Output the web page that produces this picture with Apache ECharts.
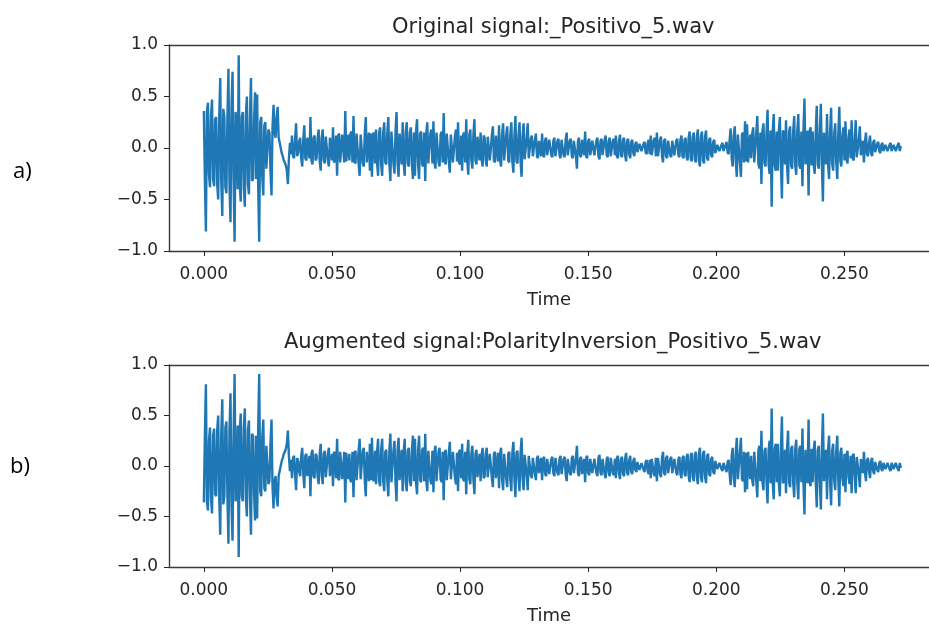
<!DOCTYPE html>
<html><head><meta charset="utf-8">
<script src="https://cdn.jsdelivr.net/npm/echarts@6/dist/echarts.min.js"></script>
<style>html,body{margin:0;padding:0;background:#fff}#c{width:929px;height:626px}</style>
</head><body><div id="c"></div>
<script>
// seconds between the plotted samples
const timeStep = 0.0004;

const originalValues = [
0.36,-0.30,-0.81,0.35,0.44,-0.25,-0.38,0.32,0.47,-0.30,-0.37,0.28,0.30,-0.35,-0.50,0.30,0.68,-0.32,-0.66,0.38,
0.30,-0.38,-0.44,0.30,0.77,-0.35,-0.72,0.40,0.74,-0.30,-0.91,0.35,0.20,-0.40,0.90,-0.35,-0.52,0.30,0.35,-0.38,
-0.57,0.32,0.50,-0.35,-0.45,0.30,0.68,-0.32,-0.30,0.28,0.54,-0.30,0.52,-0.36,-0.91,0.25,0.30,-0.28,-0.46,0.22,
0.25,-0.20,-0.20,0.18,0.15,-0.22,-0.46,0.20,0.42,0.15,0.10,0.30,0.40,0.10,0.05,0.00,-0.05,-0.08,-0.12,-0.14,
-0.17,-0.22,-0.35,-0.10,0.05,-0.06,0.12,-0.08,-0.10,0.08,0.24,-0.08,-0.05,0.06,0.10,-0.10,-0.18,0.08,0.22,-0.10,
-0.12,0.10,0.10,-0.10,0.30,-0.12,-0.16,0.10,0.12,-0.12,-0.10,0.10,0.18,-0.12,-0.22,0.10,0.18,-0.12,-0.15,0.11,
0.12,-0.12,-0.18,0.10,0.10,-0.12,0.20,-0.14,-0.12,0.12,-0.27,0.12,0.14,-0.14,-0.15,0.13,0.12,-0.14,0.36,-0.13,
-0.14,0.13,-0.12,0.14,0.16,-0.14,0.31,-0.13,-0.15,0.14,0.14,-0.15,-0.27,0.13,0.12,-0.15,-0.18,0.14,0.30,-0.14,
-0.14,0.15,-0.22,0.14,-0.28,0.13,0.15,-0.15,0.18,-0.14,-0.27,0.15,0.20,-0.16,-0.27,0.15,0.25,-0.14,-0.16,0.15,
0.30,-0.15,-0.32,0.16,0.15,-0.15,-0.25,0.16,0.35,-0.15,-0.28,0.14,0.14,-0.16,0.25,-0.15,-0.27,0.16,0.25,-0.15,
-0.18,0.15,0.20,-0.16,-0.30,0.15,-0.27,0.16,0.28,-0.15,-0.30,0.14,0.16,-0.16,-0.18,0.15,-0.32,0.14,0.25,-0.15,
-0.15,0.14,0.18,-0.15,0.26,-0.14,-0.20,0.15,0.14,-0.14,-0.18,0.13,0.16,-0.14,0.34,-0.13,-0.16,0.14,0.15,-0.13,
-0.24,0.13,0.14,-0.14,-0.15,0.12,0.18,-0.13,0.25,-0.14,-0.16,0.12,-0.22,0.13,0.15,-0.14,0.28,-0.12,-0.26,0.13,
0.18,-0.12,-0.20,0.13,0.28,-0.12,-0.16,0.11,0.12,-0.12,0.15,-0.11,-0.18,0.12,0.10,-0.12,-0.18,0.11,0.12,-0.12,
-0.12,0.12,0.21,-0.12,-0.14,0.12,0.12,-0.13,0.22,-0.12,-0.18,0.13,0.24,-0.12,-0.12,0.13,0.21,-0.12,-0.14,0.13,
0.25,-0.13,-0.24,0.12,0.31,-0.13,-0.15,0.12,0.25,-0.13,-0.28,0.12,0.24,-0.11,-0.12,0.10,0.24,-0.10,-0.11,0.09,
0.12,-0.08,-0.08,0.08,0.14,-0.08,-0.10,0.07,0.08,-0.08,0.14,-0.07,-0.09,0.08,0.10,-0.07,-0.08,0.08,0.09,-0.07,
-0.09,0.07,0.10,-0.08,-0.08,0.07,0.09,-0.07,-0.10,0.08,0.08,-0.07,-0.09,0.08,0.15,-0.07,-0.08,0.07,0.09,-0.08,
-0.10,0.07,0.08,-0.08,-0.20,0.07,0.10,-0.07,-0.09,0.08,0.08,-0.07,0.16,-0.08,-0.10,0.07,0.09,-0.07,-0.08,0.07,
0.08,-0.07,-0.08,0.07,0.10,-0.08,-0.11,0.07,0.09,-0.07,-0.08,0.08,0.12,-0.07,-0.09,0.07,0.10,-0.08,-0.08,0.07,
0.09,-0.07,0.12,-0.08,-0.10,0.07,0.13,-0.07,-0.09,0.08,0.10,-0.07,-0.13,0.07,0.09,-0.06,-0.10,0.06,0.08,-0.05,
-0.08,0.04,0.06,-0.04,-0.05,0.04,0.05,-0.03,-0.04,0.04,0.06,-0.04,-0.06,0.05,0.08,-0.06,0.12,-0.07,-0.08,0.08,
0.10,-0.08,0.15,-0.08,-0.09,0.08,0.11,-0.08,-0.14,0.07,0.09,-0.08,-0.10,0.07,0.08,-0.07,-0.09,0.07,0.08,-0.07,
-0.08,0.07,0.09,-0.07,-0.09,0.08,0.12,-0.08,-0.10,0.08,0.10,-0.09,-0.12,0.10,0.16,-0.10,-0.13,0.11,0.15,-0.11,
-0.14,0.11,0.18,-0.12,-0.18,0.11,0.16,-0.12,-0.15,0.11,0.17,-0.10,-0.12,0.08,0.10,-0.07,-0.09,0.06,0.08,-0.05,
-0.05,0.03,0.04,-0.03,-0.04,0.03,0.05,-0.03,-0.03,0.03,0.06,-0.04,-0.06,0.08,0.19,-0.10,-0.18,0.12,0.21,-0.13,
-0.28,0.13,0.12,-0.14,-0.28,0.13,0.15,-0.14,0.26,-0.13,0.23,-0.14,-0.15,0.13,-0.10,0.14,0.20,-0.14,-0.14,0.15,
0.31,-0.15,-0.20,0.15,-0.35,0.16,0.24,-0.15,-0.18,0.16,0.37,-0.16,-0.25,0.17,-0.57,0.16,0.33,-0.17,-0.22,0.16,
-0.22,0.17,0.30,-0.16,-0.49,0.17,0.15,-0.16,0.27,-0.17,-0.35,0.16,0.21,-0.17,-0.20,0.16,0.31,-0.17,-0.26,0.16,
0.33,-0.17,-0.20,0.16,-0.37,0.17,0.48,-0.16,-0.15,0.17,-0.46,0.16,0.20,-0.17,0.16,-0.16,-0.25,0.16,0.41,-0.16,
-0.20,0.16,0.43,-0.16,-0.52,0.15,0.15,-0.16,0.33,-0.15,-0.30,0.15,0.39,-0.15,-0.22,0.14,0.24,-0.14,-0.30,0.13,
0.40,-0.13,-0.18,0.12,0.20,-0.12,0.26,-0.11,-0.15,0.11,0.18,-0.10,0.27,-0.10,-0.12,0.09,0.27,-0.09,-0.10,0.08,
0.21,-0.07,-0.08,0.07,-0.14,0.06,0.15,-0.06,-0.08,0.05,0.12,-0.05,-0.08,0.05,0.08,-0.04,-0.05,0.04,0.06,-0.03,
-0.05,0.03,0.05,-0.03,-0.03,0.03,0.04,-0.03,-0.04,0.03,0.05,-0.03,-0.03,0.03,0.04,-0.03,-0.04,0.03,0.05,-0.03,0.02
];

const augmentedValues = [
-0.36,0.30,0.81,-0.35,-0.44,0.25,0.38,-0.32,-0.47,0.30,0.37,-0.28,-0.30,0.35,0.50,-0.30,-0.68,0.32,0.66,-0.38,
-0.30,0.38,0.44,-0.30,-0.77,0.35,0.72,-0.40,-0.74,0.30,0.91,-0.35,-0.20,0.40,-0.90,0.35,0.52,-0.30,-0.35,0.38,
0.57,-0.32,-0.50,0.35,0.45,-0.30,-0.68,0.32,0.30,-0.28,-0.54,0.30,-0.52,0.36,0.91,-0.25,-0.30,0.28,0.46,-0.22,
-0.25,0.20,0.20,-0.18,-0.15,0.22,0.46,-0.20,-0.42,-0.15,-0.10,-0.30,-0.40,-0.10,-0.05,0.00,0.05,0.08,0.12,0.14,
0.17,0.22,0.35,0.10,-0.05,0.06,-0.12,0.08,0.10,-0.08,-0.24,0.08,0.05,-0.06,-0.10,0.10,0.18,-0.08,-0.22,0.10,
0.12,-0.10,-0.10,0.10,-0.30,0.12,0.16,-0.10,-0.12,0.12,0.10,-0.10,-0.18,0.12,0.22,-0.10,-0.18,0.12,0.15,-0.11,
-0.12,0.12,0.18,-0.10,-0.10,0.12,-0.20,0.14,0.12,-0.12,0.27,-0.12,-0.14,0.14,0.15,-0.13,-0.12,0.14,-0.36,0.13,
0.14,-0.13,0.12,-0.14,-0.16,0.14,-0.31,0.13,0.15,-0.14,-0.14,0.15,0.27,-0.13,-0.12,0.15,0.18,-0.14,-0.30,0.14,
0.14,-0.15,0.22,-0.14,0.28,-0.13,-0.15,0.15,-0.18,0.14,0.27,-0.15,-0.20,0.16,0.27,-0.15,-0.25,0.14,0.16,-0.15,
-0.30,0.15,0.32,-0.16,-0.15,0.15,0.25,-0.16,-0.35,0.15,0.28,-0.14,-0.14,0.16,-0.25,0.15,0.27,-0.16,-0.25,0.15,
0.18,-0.15,-0.20,0.16,0.30,-0.15,0.27,-0.16,-0.28,0.15,0.30,-0.14,-0.16,0.16,0.18,-0.15,0.32,-0.14,-0.25,0.15,
0.15,-0.14,-0.18,0.15,-0.26,0.14,0.20,-0.15,-0.14,0.14,0.18,-0.13,-0.16,0.14,-0.34,0.13,0.16,-0.14,-0.15,0.13,
0.24,-0.13,-0.14,0.14,0.15,-0.12,-0.18,0.13,-0.25,0.14,0.16,-0.12,0.22,-0.13,-0.15,0.14,-0.28,0.12,0.26,-0.13,
-0.18,0.12,0.20,-0.13,-0.28,0.12,0.16,-0.11,-0.12,0.12,-0.15,0.11,0.18,-0.12,-0.10,0.12,0.18,-0.11,-0.12,0.12,
0.12,-0.12,-0.21,0.12,0.14,-0.12,-0.12,0.13,-0.22,0.12,0.18,-0.13,-0.24,0.12,0.12,-0.13,-0.21,0.12,0.14,-0.13,
-0.25,0.13,0.24,-0.12,-0.31,0.13,0.15,-0.12,-0.25,0.13,0.28,-0.12,-0.24,0.11,0.12,-0.10,-0.24,0.10,0.11,-0.09,
-0.12,0.08,0.08,-0.08,-0.14,0.08,0.10,-0.07,-0.08,0.08,-0.14,0.07,0.09,-0.08,-0.10,0.07,0.08,-0.08,-0.09,0.07,
0.09,-0.07,-0.10,0.08,0.08,-0.07,-0.09,0.07,0.10,-0.08,-0.08,0.07,0.09,-0.08,-0.15,0.07,0.08,-0.07,-0.09,0.08,
0.10,-0.07,-0.08,0.08,0.20,-0.07,-0.10,0.07,0.09,-0.08,-0.08,0.07,-0.16,0.08,0.10,-0.07,-0.09,0.07,0.08,-0.07,
-0.08,0.07,0.08,-0.07,-0.10,0.08,0.11,-0.07,-0.09,0.07,0.08,-0.08,-0.12,0.07,0.09,-0.07,-0.10,0.08,0.08,-0.07,
-0.09,0.07,-0.12,0.08,0.10,-0.07,-0.13,0.07,0.09,-0.08,-0.10,0.07,0.13,-0.07,-0.09,0.06,0.10,-0.06,-0.08,0.05,
0.08,-0.04,-0.06,0.04,0.05,-0.04,-0.05,0.03,0.04,-0.04,-0.06,0.04,0.06,-0.05,-0.08,0.06,-0.12,0.07,0.08,-0.08,
-0.10,0.08,-0.15,0.08,0.09,-0.08,-0.11,0.08,0.14,-0.07,-0.09,0.08,0.10,-0.07,-0.08,0.07,0.09,-0.07,-0.08,0.07,
0.08,-0.07,-0.09,0.07,0.09,-0.08,-0.12,0.08,0.10,-0.08,-0.10,0.09,0.12,-0.10,-0.16,0.10,0.13,-0.11,-0.15,0.11,
0.14,-0.11,-0.18,0.12,0.18,-0.11,-0.16,0.12,0.15,-0.11,-0.17,0.10,0.12,-0.08,-0.10,0.07,0.09,-0.06,-0.08,0.05,
0.05,-0.03,-0.04,0.03,0.04,-0.03,-0.05,0.03,0.03,-0.03,-0.06,0.04,0.06,-0.08,-0.19,0.10,0.18,-0.12,-0.21,0.13,
0.28,-0.13,-0.12,0.14,0.28,-0.13,-0.15,0.14,-0.26,0.13,-0.23,0.14,0.15,-0.13,0.10,-0.14,-0.20,0.14,0.14,-0.15,
-0.31,0.15,0.20,-0.15,0.35,-0.16,-0.24,0.15,0.18,-0.16,-0.37,0.16,0.25,-0.17,0.57,-0.16,-0.33,0.17,0.22,-0.16,
0.22,-0.17,-0.30,0.16,0.49,-0.17,-0.15,0.16,-0.27,0.17,0.35,-0.16,-0.21,0.17,0.20,-0.16,-0.31,0.17,0.26,-0.16,
-0.33,0.17,0.20,-0.16,0.37,-0.17,-0.48,0.16,0.15,-0.17,0.46,-0.16,-0.20,0.17,-0.16,0.16,0.25,-0.16,-0.41,0.16,
0.20,-0.16,-0.43,0.16,0.52,-0.15,-0.15,0.16,-0.33,0.15,0.30,-0.15,-0.39,0.15,0.22,-0.14,-0.24,0.14,0.30,-0.13,
-0.40,0.13,0.18,-0.12,-0.20,0.12,-0.26,0.11,0.15,-0.11,-0.18,0.10,-0.27,0.10,0.12,-0.09,-0.27,0.09,0.10,-0.08,
-0.21,0.07,0.08,-0.07,0.14,-0.06,-0.15,0.06,0.08,-0.05,-0.12,0.05,0.08,-0.05,-0.08,0.04,0.05,-0.04,-0.06,0.03,
0.05,-0.03,-0.05,0.03,0.03,-0.03,-0.04,0.03,0.04,-0.03,-0.05,0.03,0.03,-0.03,-0.04,0.03,0.04,-0.03,-0.05,0.03,-0.02
];

const xTickValues = [0, 0.05, 0.10, 0.15, 0.20, 0.25];
const yTickValues = [-1.0, -0.5, 0.0, 0.5, 1.0];
const panelTitles = ['Original signal:_Positivo_5.wav', 'Augmented signal:PolarityInversion_Positivo_5.wav'];
const panelLabels = ['a)', 'b)'];
const xAxisTitle = 'Time';

const chart = echarts.init(document.getElementById('c'), null, {renderer: 'canvas'});
const toPairs = vals => vals.map((v, i) => [i * timeStep, v]);
const font = 'DejaVu Sans';
const ink = '#262626';
const spine = {show: true, onZero: false, lineStyle: {color: '#3a3a3a', width: 1.4}};
const xMin = -0.0136, xMax = 0.2830;

const grids = [
  {left: 169, top: 45, right: 0, height: 206},
  {left: 169, top: 365, right: 0, height: 203}
];

function xAxis(idx) {
  return {
    type: 'value', gridIndex: idx, min: xMin, max: xMax, position: 'bottom',
    name: xAxisTitle, nameLocation: 'middle', nameGap: 40,
    nameTextStyle: {fontFamily: font, fontSize: 18, color: ink},
    axisLine: spine,
    axisTick: {show: true, customValues: xTickValues, length: 5, lineStyle: {color: ink, width: 1}},
    axisLabel: {customValues: xTickValues, formatter: v => v.toFixed(3), fontFamily: font, fontSize: 17, color: ink, margin: 15},
    splitLine: {show: false}
  };
}
function topSpine(idx) {
  return {
    type: 'value', gridIndex: idx, min: xMin, max: xMax, position: 'top',
    axisLine: spine, axisTick: {show: false}, axisLabel: {show: false}, splitLine: {show: false}
  };
}
function yAxis(idx) {
  return {
    type: 'value', gridIndex: idx, min: -1, max: 1,
    axisLine: spine,
    axisTick: {show: true, customValues: yTickValues, length: 5, lineStyle: {color: ink, width: 1}},
    axisLabel: {customValues: yTickValues, formatter: v => (v < 0 ? '\u2212' : '') + Math.abs(v).toFixed(1), fontFamily: font, fontSize: 17, color: ink, margin: 11},
    splitLine: {show: false}
  };
}

chart.setOption({
  animation: false,
  backgroundColor: '#fff',
  grid: grids.map(g => Object.assign({show: false, containLabel: false}, g)),
  xAxis: [xAxis(0), xAxis(1), topSpine(0), topSpine(1)],
  yAxis: [yAxis(0), yAxis(1)],
  series: [
    {type: 'line', xAxisIndex: 0, yAxisIndex: 0, data: toPairs(originalValues), showSymbol: false, symbol: 'none', sampling: null, lineStyle: {color: '#1f77b4', width: 2.4}, silent: true},
    {type: 'line', xAxisIndex: 1, yAxisIndex: 1, data: toPairs(augmentedValues), showSymbol: false, symbol: 'none', sampling: null, lineStyle: {color: '#1f77b4', width: 2.4}, silent: true}
  ],
  graphic: [
    {type: 'text', id: 't0', left: 380, top: 17, style: {text: panelTitles[0], fontFamily: font, fontSize: 21, fill: ink}, silent: true},
    {type: 'text', id: 't1', left: 265, top: 332, style: {text: panelTitles[1], fontFamily: font, fontSize: 21, fill: ink}, silent: true},
    {type: 'text', left: 13, top: 161, style: {text: panelLabels[0], fontFamily: 'Open Sans', fontSize: 22, fill: '#000'}, silent: true},
    {type: 'text', left: 10, top: 456, style: {text: panelLabels[1], fontFamily: 'Open Sans', fontSize: 22, fill: '#000'}, silent: true}
  ]
});

// centre the two titles over the axes box (centre x = 553)
const ctx = document.createElement('canvas').getContext('2d');
ctx.font = '21px "DejaVu Sans"';
chart.setOption({graphic: [
  {id: 't0', left: Math.round(553 - ctx.measureText(panelTitles[0]).width / 2)},
  {id: 't1', left: Math.round(553 - ctx.measureText(panelTitles[1]).width / 2)}
]});
</script>
</body></html>
